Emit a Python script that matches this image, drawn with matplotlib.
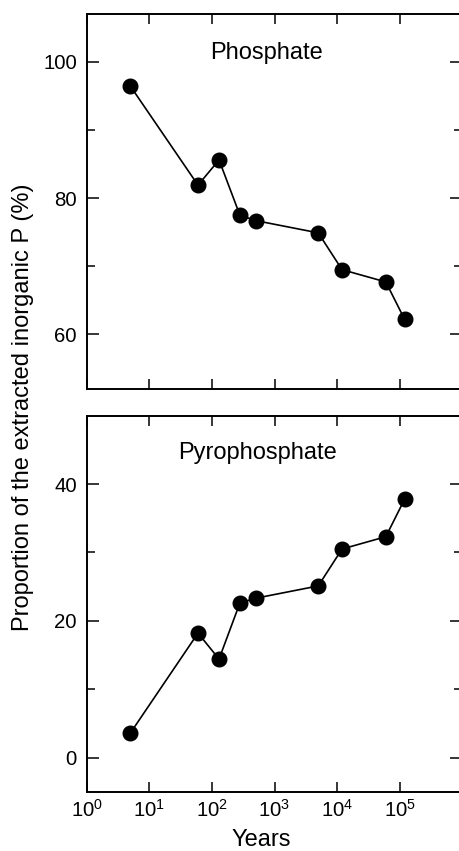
import numpy as np
import matplotlib
matplotlib.use('Agg')
import matplotlib.pyplot as plt
from matplotlib.ticker import FixedLocator, NullLocator

plt.rcParams['font.family'] = ['Liberation Sans', 'DejaVu Sans']
plt.rcParams['mathtext.default'] = 'regular'

# data
years = [5, 60, 130, 280, 500, 5000, 12000, 60000, 120000]
phosphate = [96.4, 81.9, 85.6, 77.5, 76.7, 74.9, 69.5, 67.7, 62.2]
pyrophosphate = [3.6, 18.2, 14.4, 22.6, 23.3, 25.1, 30.5, 32.3, 37.8]

x_ticks = [1, 10, 100, 1000, 10000, 100000]

W, H = 460, 851
fig = plt.figure(figsize=(W / 100, H / 100), dpi=100)

left = 86.7 / W
width = 375.6 / W
ax1 = fig.add_axes([left, 1 - 389 / H, width, 375 / H])
ax2 = fig.add_axes([left, 1 - 791.7 / H, width, 376 / H])


def style(ax, ylim, major, minor):
    ax.set_xscale('log')
    ax.set_xlim(1, 1e6)
    ax.set_ylim(*ylim)
    ax.xaxis.set_major_locator(FixedLocator(x_ticks))
    ax.xaxis.set_minor_locator(NullLocator())
    ax.yaxis.set_major_locator(FixedLocator(major))
    ax.yaxis.set_minor_locator(FixedLocator(minor))
    ax.tick_params(which='both', direction='in', top=True, right=True,
                   width=1.1, labelsize=14.7, pad=7)
    ax.tick_params(which='major', length=8.5)
    ax.tick_params(axis='x', which='major', length=7, pad=5)
    ax.tick_params(which='minor', length=5.5)
    ax.spines['right'].set_visible(False)
    for s in ['left', 'top', 'bottom']:
        ax.spines[s].set_linewidth(1.4)


ax1.plot(years, phosphate, '-o', color='black', lw=1.2, markersize=10.5)
style(ax1, (52, 107), [60, 80, 100], [70, 90])
ax1.tick_params(axis='x', labelbottom=False)
ax1.text(0.48, 0.896, 'Phosphate', transform=ax1.transAxes,
         ha='center', va='center', fontsize=17)

ax2.plot(years, pyrophosphate, '-o', color='black', lw=1.2, markersize=10.5)
style(ax2, (-5, 50), [0, 20, 40], [10, 30])
ax2.text(0.456, 0.901, 'Pyrophosphate', transform=ax2.transAxes,
         ha='center', va='center', fontsize=17)

fig.text(260.8 / W, 1 - 840 / H, 'Years', ha='center', va='center', fontsize=17)
fig.text(23 / W, 1 - 407.5 / H, 'Proportion of the extracted inorganic P (%)',
         ha='center', va='center', rotation=90, fontsize=17)

fig.savefig('out.png', dpi=100)
